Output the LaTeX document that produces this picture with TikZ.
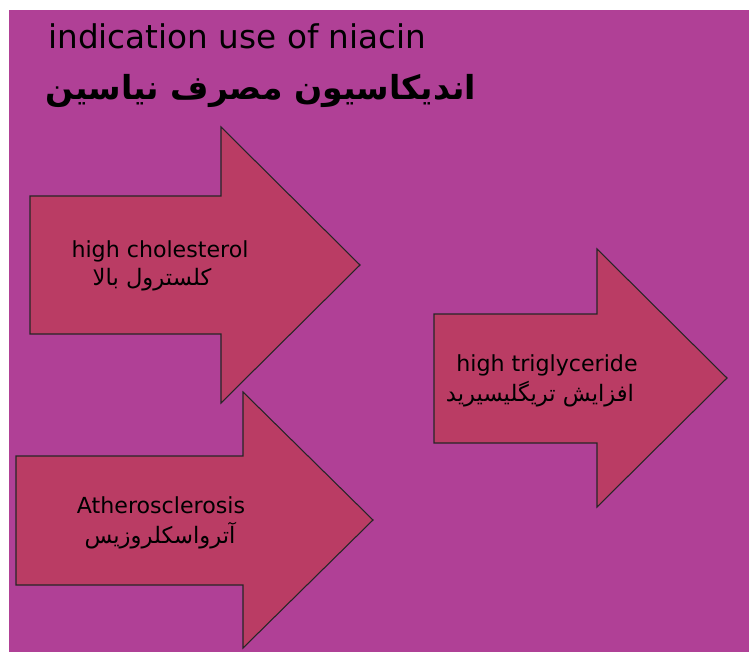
\documentclass[tikz,border=0pt]{standalone}
\usepackage{fontspec}
\setmainfont{DejaVu Sans}
\newfontfamily\farsi[Script=Arabic]{DejaVu Sans}
\TeXXeTstate=1
\usetikzlibrary{positioning}

\definecolor{bgpurple}{RGB}{176,64,150}
\definecolor{arrowred}{RGB}{186,60,100}

\begin{document}
\begin{tikzpicture}
  [x=0.75pt,y=-0.75pt,
   arrowbox/.style={fill=arrowred,draw=black!85,line width=0.8pt,line join=miter},
   entext/.style={inner sep=0pt,font=\fontsize{16.6}{19}\selectfont},
   fatext/.style={inner sep=0pt,font=\farsi\fontsize{17}{19}\selectfont}]

  \useasboundingbox (0,0) rectangle (749,652);
  \fill[bgpurple] (9,10) rectangle (749,652);

  % title
  \node[anchor=base west,inner sep=0pt,font=\fontsize{24.5}{28}\selectfont] (title) at (48,49) {indication use of niacin};
  \node[anchor=base west,inner sep=0pt,font=\farsi\bfseries\fontsize{24.8}{28}\selectfont] (titlefa) at (45,100) {\beginR اندیکاسیون مصرف نیاسین\endR};

  % the three arrows
  \draw[arrowbox] (30,196) -- (221,196) -- (221,127) -- (360,265) -- (221,403) -- (221,334) -- (30,334) -- cycle;
  \draw[arrowbox] (16,456) -- (243,456) -- (243,392) -- (373,520) -- (243,648) -- (243,585) -- (16,585) -- cycle;
  \draw[arrowbox] (434,314) -- (597,314) -- (597,249) -- (727,378) -- (597,507) -- (597,443) -- (434,443) -- cycle;

  % labels
  \node[entext] (chol) at (160,251) {high cholesterol};
  \node[fatext] (cholfa) at (152,280) {\beginR کلسترول بالا\endR};
  \node[entext] (ather) at (161,505) {Atherosclerosis};
  \node[fatext] (atherfa) at (160,536) {\beginR آترواسکلروزیس\endR};
  \node[entext] (trig) at (547,365) {high triglyceride};
  \node[fatext] (trigfa) at (540,394) {\beginR افزایش تریگلیسیرید\endR};

\end{tikzpicture}
\end{document}
